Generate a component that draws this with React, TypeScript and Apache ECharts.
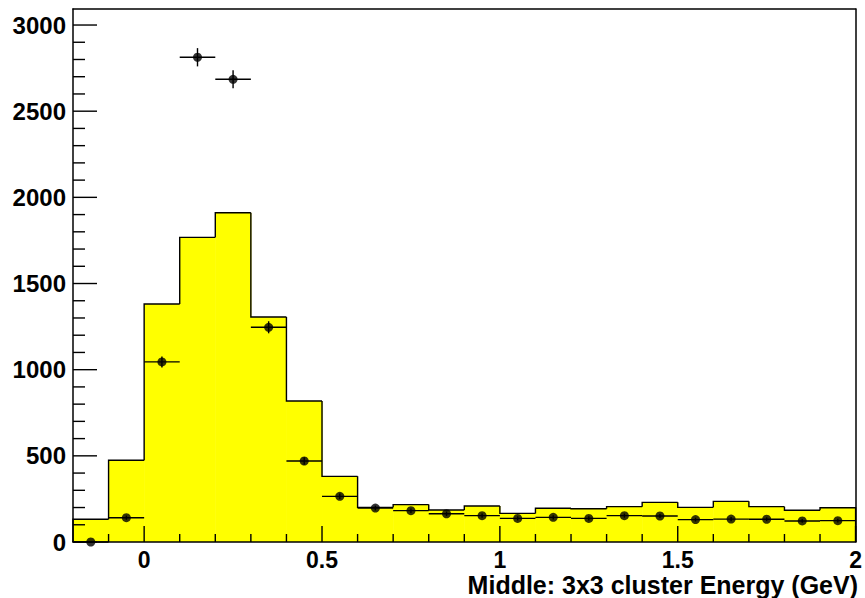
import React, { useEffect, useRef } from "react";
import * as echarts from "echarts";

const binEdges = [-0.2, -0.1, 0, 0.1, 0.2, 0.3, 0.4, 0.5, 0.6, 0.7, 0.8, 0.9, 1.0, 1.1, 1.2, 1.3, 1.4, 1.5, 1.6, 1.7, 1.8, 1.9, 2.0];
const mcCounts = [132, 474, 1381, 1768, 1911, 1306, 818, 381, 201, 217, 186, 209, 166, 196, 193, 205, 230, 201, 236, 205, 184, 199];
const dataCounts = [0, 141, 1045, 2813, 2685, 1246, 470, 265, 197, 182, 164, 153, 137, 143, 137, 153, 151, 130, 133, 132, 122, 124];
const dataErrors = [0, 12, 32, 53, 52, 35, 22, 16, 14, 13, 13, 12, 12, 12, 12, 12, 12, 11, 12, 11, 11, 11];

const xMajorTicks = [0, 0.5, 1, 1.5, 2];
const xTickLabels = ["0", "0.5", "1", "1.5", "2"];
const xMinorTicks = [-0.1, 0.1, 0.2, 0.3, 0.4, 0.6, 0.7, 0.8, 0.9, 1.1, 1.2, 1.3, 1.4, 1.6, 1.7, 1.8, 1.9];
const yMajorTicks = [0, 500, 1000, 1500, 2000, 2500, 3000];
const yTickLabels = ["0", "500", "1000", "1500", "2000", "2500", "3000"];
const yMinorTicks = [100, 200, 300, 400, 600, 700, 800, 900, 1100, 1200, 1300, 1400, 1600, 1700, 1800, 1900, 2100, 2200, 2300, 2400, 2600, 2700, 2800, 2900];
const xTitle = "Middle: 3x3 cluster Energy (GeV)";
const X_MIN = -0.2;
const X_MAX = 2.0;
const Y_MAX = 3093;

const FONT = "'Liberation Sans', Arial, Helvetica, sans-serif";

function labelFor(ticks: number[], labels: string[], v: number) {
  for (let i = 0; i < ticks.length; i++) {
    if (Math.abs(ticks[i] - v) < 1e-9) return labels[i];
  }
  return "";
}

export default function App() {
  const ref = useRef<HTMLDivElement>(null);
  useEffect(() => {
    if (!ref.current) return;
    const chart = echarts.init(ref.current, null, { renderer: "svg" });

    const fillData = mcCounts.map((v, i) => [binEdges[i], binEdges[i + 1], v]);
    const outlineData = mcCounts.map((v, i) => [binEdges[i], binEdges[i + 1], v, i === 0 ? 0 : mcCounts[i - 1], i === mcCounts.length - 1 ? 1 : 0]);
    const errData = dataCounts.map((v, i) => [binEdges[i], binEdges[i + 1], v, dataErrors[i]]);
    const pointData = dataCounts.map((v, i) => [(binEdges[i] + binEdges[i + 1]) / 2, v]);

    const tickChildren = (api: any) => {
      const out: any[] = [];
      const xt = (v: number, len: number) => {
        const p = api.coord([v, 0]);
        out.push({ type: "polyline", shape: { points: [[p[0], p[1]], [p[0], p[1] - len]] }, style: { stroke: "#000", lineWidth: 1.4, fill: null } });
      };
      const yt = (v: number, len: number) => {
        const p = api.coord([X_MIN, v]);
        out.push({ type: "polyline", shape: { points: [[p[0], p[1]], [p[0] + len, p[1]]] }, style: { stroke: "#000", lineWidth: 1.4, fill: null } });
      };
      xMajorTicks.forEach((v) => xt(v, 16));
      xMinorTicks.forEach((v) => xt(v, 8));
      yMajorTicks.forEach((v) => yt(v, 24));
      yMinorTicks.forEach((v) => yt(v, 12));
      return out;
    };

    const baseX = { type: "value", min: X_MIN, max: X_MAX, splitLine: { show: false } };
    const baseY = { type: "value", min: 0, max: Y_MAX, splitLine: { show: false } };

    const option: any = {
      animation: false,
      backgroundColor: "#ffffff",
      grid: { left: 73, right: 7, top: 9, bottom: 56, show: false },
      title: {
        text: xTitle,
        right: 7,
        top: 572,
        padding: 0,
        textStyle: { fontSize: 25, fontWeight: "bold", fontFamily: FONT, color: "#000" },
      },
      xAxis: [
        {
          ...baseX,
          position: "bottom",
          z: 8,
          axisLine: { show: true, onZero: false, lineStyle: { color: "#000", width: 1.5 } },
          axisTick: { show: false },
          axisLabel: {
            show: true,
            customValues: xMajorTicks,
            margin: 6,
            fontSize: 23,
            fontWeight: "bold",
            fontFamily: FONT,
            color: "#000",
            formatter: (v: number) => labelFor(xMajorTicks, xTickLabels, v),
          },
        },
        {
          ...baseX,
          position: "top",
          z: 8,
          axisLine: { show: true, onZero: false, lineStyle: { color: "#000", width: 1.5 } },
          axisTick: { show: false },
          axisLabel: { show: false },
        },
      ],
      yAxis: [
        {
          ...baseY,
          position: "left",
          z: 8,
          axisLine: { show: true, onZero: false, lineStyle: { color: "#000", width: 1.5 } },
          axisTick: { show: false },
          axisLabel: {
            show: true,
            customValues: yMajorTicks,
            margin: 7,
            fontSize: 24,
            fontWeight: "bold",
            fontFamily: FONT,
            color: "#000",
            formatter: (v: number) => labelFor(yMajorTicks, yTickLabels, v),
          },
        },
        {
          ...baseY,
          position: "right",
          z: 8,
          axisLine: { show: true, onZero: false, lineStyle: { color: "#000", width: 1.5 } },
          axisTick: { show: false },
          axisLabel: { show: false },
        },
      ],
      series: [
        {
          type: "custom",
          name: "mc-fill",
          xAxisIndex: 0,
          yAxisIndex: 0,
          z: 2,
          silent: true,
          data: fillData,
          encode: { x: [0, 1], y: 2 },
          renderItem: (params: any, api: any) => {
            const p0 = api.coord([api.value(0), 0]);
            const p1 = api.coord([api.value(1), api.value(2)]);
            return {
              type: "rect",
              shape: { x: p0[0], y: p1[1], width: p1[0] - p0[0] + 0.5, height: p0[1] - p1[1] },
              style: { fill: "#ffff00", stroke: null },
            };
          },
        },
        {
          type: "custom",
          name: "mc-outline",
          xAxisIndex: 0,
          yAxisIndex: 0,
          z: 3,
          silent: true,
          data: outlineData,
          encode: { x: [0, 1], y: 2 },
          renderItem: (params: any, api: any) => {
            const lo = api.value(0);
            const hi = api.value(1);
            const v = api.value(2);
            const prev = api.value(3);
            const last = api.value(4);
            const pts = [api.coord([lo, prev]), api.coord([lo, v]), api.coord([hi, v])];
            if (last) pts.push(api.coord([hi, 0]));
            return {
              type: "polyline",
              shape: { points: pts },
              style: { stroke: "#000", lineWidth: 1.4, fill: null },
            };
          },
        },
        {
          type: "custom",
          name: "data-errors",
          xAxisIndex: 0,
          yAxisIndex: 0,
          z: 4,
          silent: true,
          data: errData,
          encode: { x: [0, 1], y: 2 },
          renderItem: (params: any, api: any) => {
            const lo = api.value(0);
            const hi = api.value(1);
            const v = api.value(2);
            const e = api.value(3);
            const mid = (lo + hi) / 2;
            const a = api.coord([lo, v]);
            const b = api.coord([hi, v]);
            const c = api.coord([mid, v - e]);
            const d = api.coord([mid, v + e]);
            const children: any[] = [
              { type: "line", shape: { x1: a[0], y1: a[1], x2: b[0], y2: b[1] }, style: { stroke: "#000", lineWidth: 1.4 } },
              { type: "line", shape: { x1: c[0], y1: c[1], x2: d[0], y2: d[1] }, style: { stroke: "#000", lineWidth: 1.4 } },
            ];
            if (params.dataIndex === 1) {
              tickChildren(api).forEach((el) => children.push(el));
            }
            return { type: "group", children };
          },
        },
        {
          type: "scatter",
          name: "data",
          xAxisIndex: 0,
          yAxisIndex: 0,
          z: 5,
          silent: true,
          symbol: "circle",
          symbolSize: 9,
          itemStyle: { color: "#000" },
          data: pointData,
        },
      ],
    };
    chart.setOption(option);
    return () => chart.dispose();
  }, []);
  return (
    <div
      ref={ref}
      style={{ position: "fixed", left: 0, top: 0, width: 865, height: 598, background: "#fff" }}
    />
  );
}
